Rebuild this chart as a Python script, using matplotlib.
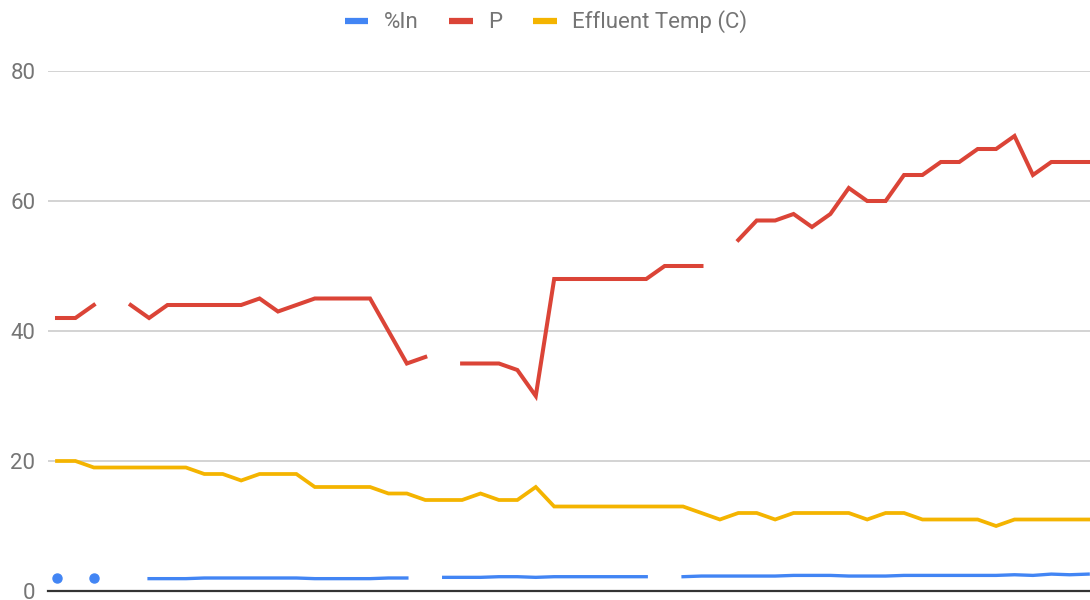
import matplotlib.pyplot as plt
from matplotlib.lines import Line2D
import numpy as np

nan = np.nan

# one value per sample, gaps are missing readings
pct_in = [2.0, nan, 2.0, nan, nan, 1.9, 1.9, 1.9, 2.0, 2.0,
          2.0, 2.0, 2.0, 2.0, 1.9, 1.9, 1.9, 1.9, 2.0, 2.0,
          nan, 2.1, 2.1, 2.1, 2.2, 2.2, 2.1, 2.2, 2.2, 2.2,
          2.2, 2.2, 2.2, nan, 2.2, 2.3, 2.3, 2.3, 2.3, 2.3,
          2.4, 2.4, 2.4, 2.3, 2.3, 2.3, 2.4, 2.4, 2.4, 2.4,
          2.4, 2.4, 2.5, 2.4, 2.6, 2.5, 2.6]

p_vals = [42, 42, 44, nan, 44, 42, 44, 44, 44, 44,
          44, 45, 43, 44, 45, 45, 45, 45, 40, 35,
          36, nan, 35, 35, 35, 34, 30, 48, 48, 48,
          48, 48, 48, 50, 50, 50, nan, 54, 57, 57,
          58, 56, 58, 62, 60, 60, 64, 64, 66, 66,
          68, 68, 70, 64, 66, 66, 66]

effluent_temp = [20, 20, 19, 19, 19, 19, 19, 19, 18, 18,
                 17, 18, 18, 18, 16, 16, 16, 16, 15, 15,
                 14, 14, 14, 15, 14, 14, 16, 13, 13, 13,
                 13, 13, 13, 13, 13, 12, 11, 12, 12, 11,
                 12, 12, 12, 12, 11, 12, 12, 11, 11, 11,
                 11, 10, 11, 11, 11, 11, 11]

series = [
    ('%In', pct_in, '#4285f4', 2.4),
    ('P', p_vals, '#db4437', 2.9),
    ('Effluent Temp (C)', effluent_temp, '#f4b400', 2.7),
]

plt.rcParams['font.family'] = ['Roboto', 'DejaVu Sans']

fig = plt.figure(figsize=(10.9, 6), dpi=100)
ax = fig.add_axes([47.8 / 1090, 9 / 600, (1090 - 47.8) / 1090, 520 / 600])

x = np.arange(len(p_vals))
handles = []
for name, vals, color, lw in series:
    y = np.array(vals, dtype=float)
    ax.plot(x, y, color=color, lw=lw, solid_joinstyle='miter', zorder=3)
    # lone points get a dot, like the original chart
    ok = ~np.isnan(y)
    prev_ok = np.r_[False, ok[:-1]]
    next_ok = np.r_[ok[1:], False]
    lone = ok & ~prev_ok & ~next_ok
    ax.plot(x[lone], y[lone], 'o', color=color, ms=6.5, zorder=3)
    handles.append(Line2D([], [], color=color, lw=4.5, solid_capstyle='butt'))

ax.set_xlim(-0.5, 56.1)
ax.set_ylim(0, 80)
ax.set_yticks([0, 20, 40, 60, 80])
ax.set_xticks([])
ax.grid(axis='y', color='#cccccc', lw=1.2)
ax.set_axisbelow(True)
for side in ['top', 'right', 'left']:
    ax.spines[side].set_visible(False)
ax.spines['bottom'].set_color('#333333')
ax.spines['bottom'].set_linewidth(1.6)
ax.spines['bottom'].set_zorder(4)
ax.tick_params(axis='y', length=0, pad=9, labelsize=16, labelcolor='#757575')

fig.legend(handles, [s[0] for s in series], loc='center', ncol=3,
           bbox_to_anchor=(546 / 1090, 1 - 22 / 600), frameon=False,
           fontsize=16, labelcolor='#757575', handlelength=1.05,
           handletextpad=0.7, columnspacing=1.4)

fig.savefig('out.png', dpi=100)
